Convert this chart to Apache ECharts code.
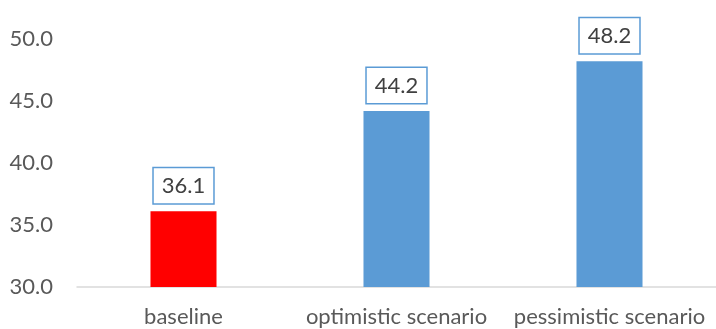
<!DOCTYPE html>
<html><head><meta charset="utf-8">
<script src="https://cdn.jsdelivr.net/npm/echarts@6/dist/echarts.min.js"></script>
<style>html,body{margin:0;padding:0;background:#fff}#c{width:716px;height:329px}</style>
</head><body><div id="c"></div>
<script>
const categories = ["baseline", "optimistic scenario", "pessimistic scenario"];
const values = [36.1, 44.2, 48.2];
const barColors = ["#FF0000", "#5B9BD5", "#5B9BD5"];
const yTicks = [30, 35, 40, 45, 50];

const chart = echarts.init(document.getElementById('c'));
const FONT = 'Lato';
chart.setOption({
  animation: false,
  grid: { left: 77, right: -11, top: 39, bottom: 42 },
  xAxis: {
    type: 'category',
    data: categories,
    axisLine: { lineStyle: { color: '#d9d9d9', width: 1.5 } },
    axisTick: { show: false },
    axisLabel: { color: '#595959', fontFamily: FONT, fontSize: 22, margin: 19,
      interval: 0, hideOverlap: false }
  },
  yAxis: {
    type: 'value',
    min: yTicks[0], max: yTicks[yTicks.length - 1], interval: 5,
    axisLine: { show: false },
    axisTick: { show: false },
    splitLine: { show: false },
    axisLabel: { color: '#595959', fontFamily: FONT, fontSize: 22, margin: 24,
      formatter: v => v.toFixed(1) }
  },
  series: [{
    type: 'bar',
    barWidth: '31%',
    data: values.map((v, i) => ({ value: v, itemStyle: { color: barColors[i] } })),
    label: {
      show: true, position: 'top', distance: 8,
      formatter: p => p.value.toFixed(1),
      color: '#404040', fontFamily: FONT, fontSize: 22,
      backgroundColor: '#fff', borderColor: '#5B9BD5', borderWidth: 1.5,
      padding: [7, 8, 6, 8]
    }
  }]
});
</script></body></html>
